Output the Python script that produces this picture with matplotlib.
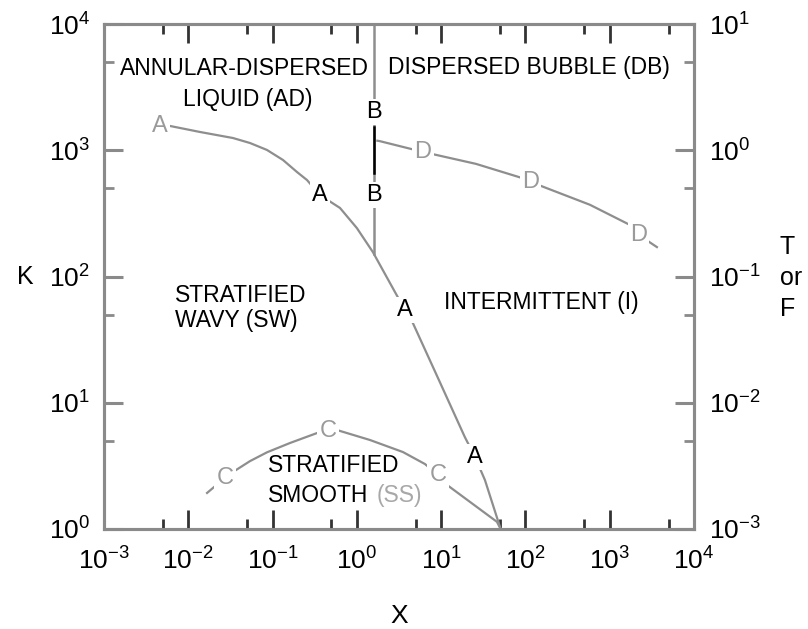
import math

import matplotlib
matplotlib.use("Agg")
import matplotlib.pyplot as plt
from matplotlib.ticker import LogLocator, FuncFormatter, NullFormatter

plt.rcParams["font.family"] = ["Liberation Sans", "DejaVu Sans"]
plt.rcParams["mathtext.fontset"] = "custom"
plt.rcParams["mathtext.rm"] = "Liberation Sans"
plt.rcParams["mathtext.it"] = "Liberation Sans:italic"
plt.rcParams["mathtext.bf"] = "Liberation Sans:bold"

# curve A: F vs X (right axis)
a_x = [0.0061, 0.0138, 0.0339, 0.054, 0.0859, 0.133, 0.1945, 0.256, 0.365,
       0.631, 1.0, 1.55, 2.83, 3.72, 4.62, 9.42, 19.1, 25.2, 33.1, 50.8]
a_f = [1.556, 1.395, 1.25, 1.141, 1.005, 0.837, 0.673, 0.581, 0.442,
       0.349, 0.242, 0.156, 0.0754, 0.0543, 0.0428, 0.0151, 0.00535, 0.00372,
       0.00244, 0.001]
a_labels = [(0.0046, 1.55, "#9a9a9a"), (0.365, 0.44, "black"),
            (3.72, 0.054, "black"), (25.2, 0.0037, "black")]

# curve B: constant X, K from top of chart down to curve A
b_x = 1.6
b_k = [1e4, 150]
b_dark = [1525, 660]
b_labels = [2010, 442]

# curve C: K vs X (left axis)
c_x = [0.0167, 0.0272, 0.0339, 0.054, 0.0859, 0.161, 0.365, 0.454, 0.581,
       1.43, 3.52, 6.43, 9.16, 10.5, 45.9, 50.8]
c_k = [1.93, 2.54, 2.83, 3.45, 4.05, 4.8, 5.87, 6.0, 6.08, 5.07, 4.07, 3.27,
       2.68, 2.36, 1.14, 1.0]
c_labels = [(0.0272, 2.54), (0.454, 6.0), (9.16, 2.68)]

# curve D: T vs X (right axis)
d_x = [1.75, 1.88, 6.08, 25.9, 86, 116, 582, 1936, 2218, 3631]
d_t = [1.19, 1.18, 0.97, 0.78, 0.61, 0.56, 0.37, 0.247, 0.213, 0.171]
d_labels = [(6.08, 0.97), (116, 0.56), (2218, 0.213)]

line_col = "#8e8e8e"
spine_col = "#8a8a8a"
label_gray = "#9a9a9a"


def pow_label(v, pos):
    e = int(round(math.log10(v)))
    return r"$\mathregular{10^{%d}}$" % e


fig = plt.figure(figsize=(8.08, 6.29), dpi=100)
ax = fig.add_axes([104 / 808, 1 - 529 / 629, 590 / 808, 505 / 629])
ax.set_xscale("log")
ax.set_yscale("log")
ax.set_xlim(1e-3, 1e4)
ax.set_ylim(1e0, 1e4)

ax2 = ax.twinx()
ax2.set_yscale("log")
ax2.set_ylim(1e-3, 1e1)

for a in (ax, ax2):
    for s in a.spines.values():
        s.set_color(spine_col)
        s.set_linewidth(2.2)

ax.xaxis.set_major_locator(LogLocator(base=10, subs=[1.0]))
ax.xaxis.set_minor_locator(LogLocator(base=10, subs=[5.0]))
ax.yaxis.set_major_locator(LogLocator(base=10, subs=[1.0]))
ax.yaxis.set_minor_locator(LogLocator(base=10, subs=[5.0]))
ax2.yaxis.set_major_locator(LogLocator(base=10, subs=[1.0]))
ax2.yaxis.set_minor_locator(LogLocator(base=10, subs=[5.0]))
for axis in (ax.xaxis, ax.yaxis, ax2.yaxis):
    axis.set_major_formatter(FuncFormatter(pow_label))
    axis.set_minor_formatter(NullFormatter())

ax.tick_params(axis="x", which="both", direction="in", top=True,
               colors="#333333", labelcolor="black", labelsize=19, pad=13)
ax.tick_params(axis="x", which="major", length=14, width=2)
ax.tick_params(axis="x", which="minor", length=7, width=2)
ax.tick_params(axis="y", which="both", direction="in", colors=spine_col,
               labelcolor="black", labelsize=19, pad=10)
ax.tick_params(axis="y", which="major", length=14, width=2.2)
ax.tick_params(axis="y", which="minor", length=7, width=2)
ax2.tick_params(axis="y", which="both", direction="in", colors=spine_col,
                labelcolor="black", labelsize=19, pad=11)
ax2.tick_params(axis="y", which="major", length=14, width=2.2)
ax2.tick_params(axis="y", which="minor", length=7, width=2)

ax.set_xlabel("X", fontsize=19)
ax.xaxis.set_label_coords(0.5, -0.148)
ax.set_ylabel("K", fontsize=18, rotation=0, va="center", ha="center")
ax.yaxis.set_label_coords(-0.134, 0.5)
ax2.set_ylabel("T\nor\nF", fontsize=18, rotation=0, va="center", ha="left",
               multialignment="left", linespacing=1.38)
ax2.yaxis.set_label_coords(1.145, 0.497)

# boundary curves
ax2.plot(a_x, a_f, color=line_col, lw=1.6, zorder=2)
ax.plot([b_x, b_x], b_k, color=line_col, lw=1.8, zorder=2)
ax.plot([b_x, b_x], b_dark, color="black", lw=1.8, zorder=3)
ax.plot(c_x, c_k, color=line_col, lw=1.6, zorder=2)
ax2.plot(d_x, d_t, color=line_col, lw=1.6, zorder=2)

box = dict(facecolor="white", edgecolor="none", pad=1.5)
for x, y, c in a_labels:
    ax2.text(x, y, "A", color=c, fontsize=17, ha="center", va="center",
             bbox=box, zorder=5)
for y in b_labels:
    ax.text(b_x, y, "B", color="black", fontsize=17, ha="center", va="center",
            bbox=box, zorder=5)
for x, y in c_labels:
    ax.text(x, y, "C", color=label_gray, fontsize=17, ha="center",
            va="center", bbox=box, zorder=5)
for x, y in d_labels:
    ax2.text(x, y, "D", color=label_gray, fontsize=17, ha="center",
             va="center", bbox=box, zorder=5)

# flow regime names
reg = dict(fontsize=16.5, transform=ax.transAxes, va="baseline", zorder=6)
ax.text(0.2373, 0.899, "ANNULAR-DISPERSED", ha="center", **reg)
ax.text(0.2441, 0.8376, "LIQUID (AD)", ha="center", **reg)
ax.text(0.4814, 0.901, "DISPERSED BUBBLE (DB)", ha="left", **reg)
ax.text(0.1203, 0.4495, "STRATIFIED", ha="left", **reg)
ax.text(0.1203, 0.400, "WAVY (SW)", ha="left", **reg)
ax.text(0.5763, 0.4356, "INTERMITTENT (I)", ha="left", **reg)
ax.text(0.278, 0.1129, "STRATIFIED", ha="left", **reg)
ax.text(0.278, 0.0535, "SMOOTH", ha="left", **reg)
ax.text(0.4627, 0.0535, "(SS)", ha="left", color="#a8a8a8", **reg)

fig.savefig("out.png", dpi=100)
